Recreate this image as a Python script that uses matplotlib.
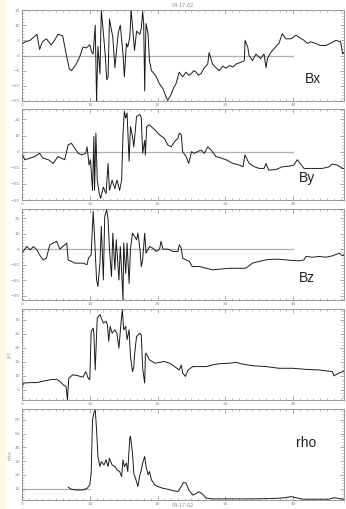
import matplotlib
matplotlib.use("Agg")
import matplotlib.pyplot as plt
from matplotlib.ticker import MultipleLocator

# hours since start
bx_t = [0, 0.5, 1.2, 2.2, 2.6, 3.0, 3.6, 4.3, 4.8, 5.3, 6.0, 6.6, 7.0, 7.3, 8.0, 8.5, 9.0,
        9.5, 10.0, 10.3, 10.5, 10.8, 11.0, 11.2, 11.5, 11.7, 12.0, 12.3, 12.5, 12.7, 12.9,
        13.4, 13.7, 14.2, 14.5, 14.9, 15.1, 15.4, 15.6, 15.9, 16.1, 16.4, 16.6, 16.9, 17.4,
        17.6, 17.8, 17.95, 18.1, 18.2, 18.3, 18.6, 18.8, 19.1, 19.5, 19.8, 20.3, 20.8, 21.3, 21.5,
        22.0, 22.4, 22.7, 23.2, 23.5, 23.7, 24.2, 24.6, 25.0, 25.3, 25.7, 26.0, 26.4, 26.9, 27.4,
        27.6, 28.1, 28.6, 29.1, 29.6, 30.1, 30.6, 31.1, 31.6, 32.3, 32.8, 32.9, 33.3, 33.5, 34.0,
        34.5, 35.2, 35.7, 36.0, 36.2, 36.7, 37.4, 37.9, 38.4, 38.9, 39.7, 40.4, 40.9, 41.6, 42.1,
        42.6, 43.3, 44.0, 44.8, 45.5, 46.3, 47.0, 47.3, 47.5]
bx_v = [4.0, 4.5, 5.0, 7.0, 2.0, 4.5, 5.5, 3.5, 5.0, 7.0, 6.5, -0.5, -4.5, -5.0, -2.8, -0.5, 2.8,
        2.5, 3.5, 1.0, 0.5, 10.0, -15.0, 3.0, -6.0, 15.0, 7.5, -0.5, -8.0, -7.0, 12.0,
        6.0, -4.0, 7.5, 10.0, 0.5, -7.0, 4.0, 2.8, 6.0, 15.0, 7.0, 1.7, 8.0, 7.0,
        9.0, 14.5, 10.5, -11.7, 2.0, 10.5, 7.0, -1.7, -5.0, -6.0, -7.0, -9.4, -11.0, -13.9, -14.8,
        -12.8, -10.5, -9.4, -5.5, -6.5, -7.0, -5.5, -6.5, -6.0, -5.0, -5.5, -6.5, -6.0, -4.0, -2.8,
        1.0, -2.8, -4.0, -5.0, -3.5, -4.2, -3.3, -3.8, -2.8, -2.2, -1.7, 5.0, 2.8, 0.0, -1.7,
        0.5, -1.0, 0.5, -4.0, -1.0, 1.0, 2.8, 4.0, 7.2, 5.5, 5.5, 6.7, 6.0, 5.0, 4.0,
        4.5, 4.0, 3.3, 3.3, 4.0, 5.0, 4.5, 0.5, 1.0]

by_t = [0, 0.4, 1.2, 1.9, 2.6, 3.1, 3.9, 4.6, 5.3, 5.8, 6.3, 6.8, 7.3, 7.8, 8.3, 8.8, 9.4,
        9.6, 9.9, 10.1, 10.4, 10.6, 10.7, 10.9, 11.1, 11.4, 11.6, 12.0, 12.4, 12.7, 12.9,
        13.3, 13.7, 14.0, 14.4, 14.7, 14.9, 15.1, 15.3, 15.5, 15.8, 16.0, 16.3, 16.5, 16.9,
        17.4, 17.6, 17.8, 18.1, 18.2, 18.4, 18.8, 19.6, 20.3, 21.0, 21.5, 22.0, 22.5, 23.0,
        23.2, 23.5, 23.7, 24.2, 24.6, 25.0, 25.4, 25.9, 26.4, 26.9, 27.4, 27.9, 28.6, 29.4,
        30.1, 31.1, 32.1, 32.6, 32.9, 33.5, 34.3, 35.0, 35.7, 36.0, 36.4, 37.5, 38.4, 39.4,
        40.1, 40.6, 41.1, 41.6, 42.8, 44.3, 45.3, 45.8, 46.5, 47.3, 47.5]
by_v = [-1.0, -5.0, -4.0, -3.0, -1.0, -4.0, -5.0, -7.3, -3.0, -4.0, -5.0, 4.2, 5.2, 2.0, -1.0, -2.0, -1.0,
        3.0, -8.3, -5.0, -24.0, 9.4, -24.0, 11.5, -17.7, -26.0, -29.0, -22.0, -26.0, -7.3, -24.0,
        -17.7, -23.0, -17.7, -24.0, -17.7, 11.5, 25.0, 20.8, 24.0, -6.0, 15.6, 9.4, 3.0, 21.9,
        23.0, 21.0, -1.0, 7.0, -2.0, 15.6, 16.7, 13.5, 10.4, 8.3, 4.2, 3.0, 6.2, 8.3,
        11.5, 10.4, 0.0, -3.0, -7.3, 0.0, -1.0, 0.0, 1.0, -1.0, 3.0, 1.0, -3.0, -4.0,
        -5.0, -7.3, -8.3, -9.4, -2.0, -7.3, -9.4, -10.4, -10.4, -7.3, -11.5, -11.0, -9.4, -9.0,
        -8.3, -5.0, -7.7, -10.4, -10.4, -10.4, -9.4, -7.7, -8.3, -10.4, -10.4]

bz_t = [0, 0.7, 1.2, 1.7, 2.2, 2.6, 3.1, 3.6, 4.1, 4.6, 5.1, 5.6, 6.1, 6.6, 6.8, 7.3, 7.8, 8.5,
        9.0, 9.6, 9.8, 10.2, 10.5, 10.7, 11.0, 11.2, 11.5, 11.7, 12.0, 12.2, 12.5, 12.7, 12.9,
        13.2, 13.4, 13.7, 13.9, 14.3, 14.5, 14.7, 14.9, 15.0, 15.3, 15.5, 15.8, 16.0, 16.3,
        16.6, 16.9, 17.1, 17.4, 17.6, 17.8, 18.1, 18.3, 18.8, 19.3, 19.8, 20.3, 20.5, 20.8,
        21.5, 22.3, 23.0, 23.2, 23.5, 23.7, 24.2, 24.7, 25.1, 26.2, 27.2, 28.1, 29.1, 30.6,
        32.1, 33.0, 34.0, 35.0, 36.0, 37.0, 37.9, 38.9, 39.9, 40.9, 41.6, 41.9, 42.8, 43.8,
        44.8, 45.8, 46.8, 47.3, 47.5]
bz_v = [-2.6, 1.7, -0.5, 1.7, -0.5, -3.7, -6.9, -5.8, 2.8, 3.9, 5.0, 0.0, 2.0, 3.9, -6.9, -7.9, -9.0, -9.0,
        -9.0, -10.0, -5.8, -3.7, 24.3, 8.2, -19.8, -24.0, -9.0, 14.6, -19.8, 21.0, 25.4, 18.9, 0.0,
        -17.6, 10.3, -13.3, 6.0, -19.8, 1.7, -14.5, -32.7, 3.9, -15.5, 3.9, -22.0, 0.0, 10.3,
        8.2, 6.0, 10.3, 0.0, -11.2, -6.9, 10.3, -2.6, 1.7, 0.6, -1.5, 0.0, 5.0, 0.0,
        0.0, -1.5, -1.5, 2.8, 0.6, -5.8, -6.9, -7.9, -11.2, -11.2, -12.3, -13.3, -12.9, -12.3,
        -12.3, -12.3, -9.0, -7.9, -6.9, -6.5, -6.5, -6.9, -7.3, -7.5, -6.9, -4.7, -5.2, -4.7,
        -5.2, -4.3, -2.6, -4.3, -3.5]

v_t = [0, 0.2, 1.2, 2.2, 3.1, 4.1, 5.1, 5.6, 6.1, 6.5, 6.7, 6.9, 7.5, 8.3, 9.0, 9.4, 9.8,
       10.0, 10.2, 10.5, 10.6, 10.8, 11.1, 11.5, 11.7, 12.0, 12.4, 12.6, 12.8, 13.0, 13.3,
       13.7, 14.0, 14.3, 14.6, 14.8, 15.0, 15.3, 15.5, 15.8, 16.0, 16.3, 16.5, 16.6, 16.9,
       17.4, 17.6, 17.8, 18.1, 18.2, 18.3, 18.8, 19.6, 20.3, 21.0, 21.8, 22.5, 23.2, 23.5,
       23.7, 24.1, 24.5, 25.2, 26.2, 27.2, 28.1, 29.1, 30.6, 31.6, 32.5, 34.0, 36.0, 37.9,
       39.9, 41.9, 43.8, 45.8, 46.0, 46.8, 47.3, 47.5]
v_v = [5.6, 7.4, 7.6, 7.6, 8.1, 8.6, 8.8, 8.0, 6.8, 6.2, 1.4, 9.2, 10.4, 10.0, 9.5, 11.5, 9.0,
       8.6, 25.8, 27.0, 25.2, 12.1, 30.6, 31.8, 30.6, 28.8, 29.4, 28.2, 22.3, 27.6, 25.2,
       26.4, 25.2, 19.9, 28.8, 33.6, 26.4, 27.6, 22.9, 26.4, 16.9, 11.5, 13.3, 17.5, 24.0,
       25.2, 24.6, 12.7, 7.4, 17.5, 18.1, 15.7, 14.5, 14.8, 15.1, 14.5, 13.3, 12.1, 13.9,
       11.0, 9.8, 12.1, 13.3, 13.3, 13.3, 13.9, 14.3, 14.5, 14.8, 14.2, 13.6, 13.3, 12.7,
       12.7, 12.3, 12.1, 11.5, 10.0, 11.0, 11.5, 11.8]

rho_t = [6.8, 7.3, 8.0, 9.0, 9.6, 10.0, 10.2, 10.4, 10.6, 10.8, 11.0, 11.2, 11.5, 11.7, 12.1,
         12.4, 12.7, 12.9, 13.3, 13.7, 14.0, 14.4, 14.7, 14.9, 15.1, 15.4, 15.6, 15.9, 16.0,
         16.3, 16.5, 16.9, 17.1, 17.4, 17.6, 17.8, 18.1, 18.3, 18.6, 18.8, 19.1, 19.6, 20.0,
         20.8, 21.5, 22.3, 23.0, 23.5, 23.8, 24.2, 24.6, 25.2, 25.7, 26.1, 26.6, 27.2, 28.1,
         30.1, 32.1, 34.0, 36.0, 37.9, 38.9, 39.7, 40.4, 41.4, 43.3, 45.3, 46.0, 46.8, 47.3, 47.5]
rho_v = [11.0, 9.5, 9.0, 9.0, 10.2, 12.7, 21.0, 60.0, 64.9, 67.3, 52.7, 33.3, 26.0, 29.6, 27.1,
         30.9, 26.0, 32.0, 27.1, 26.0, 23.6, 22.4, 18.7, 30.9, 26.0, 28.5, 22.4, 46.7, 48.0,
         35.7, 21.0, 15.0, 11.5, 20.0, 23.6, 28.5, 33.3, 26.0, 20.0, 22.4, 16.3, 12.7, 11.5,
         10.2, 9.5, 8.5, 7.8, 11.5, 14.4, 14.0, 9.0, 5.3, 6.5, 7.8, 6.1, 3.0, 2.5,
         2.5, 2.5, 2.5, 2.7, 3.0, 3.4, 4.2, 3.4, 2.3, 2.3, 2.3, 3.4, 2.7, 2.3, 2.3]

panel_labels = ["Bx", "By", "Bz", "", "rho"]
y_units = ["nT", "nT", "nT", "|V|", "n/cc"]
y_limits = [(-15, 15), (-30, 26.5), (-32.7, 25.8), (1.4, 33.8), (1.7, 67.8)]
y_major = [5, 10, 10, 5, 10]
ref_levels = [0, 0, 0, None, 9.5]
ref_ends = [40, 40, 40, None, 10]
label_pos = [(0.88, 0.2), (0.86, 0.2), (0.86, 0.2), None, (0.85, 0.58)]
series = [(bx_t, bx_v), (by_t, by_v), (bz_t, bz_v), (v_t, v_v), (rho_t, rho_v)]

W, H = 346, 509
fig = plt.figure(figsize=(W / 100, H / 100), dpi=100)
fig.patch.set_facecolor("white")
# cream strip on the far left
fig.patches.append(plt.Rectangle((0, 0), 7 / W, 1, transform=fig.transFigure,
                                 facecolor="#fdfbe6", edgecolor="none", zorder=0))

tops = [10, 109, 209, 309, 409]
left, right = 22, 344
ph = 91
gray = "#888888"

for i, (t, v) in enumerate(series):
    ax = fig.add_axes([left / W, 1 - (tops[i] + ph) / H, (right - left) / W, ph / H])
    if ref_levels[i] is not None:
        ax.plot([0, ref_ends[i]], [ref_levels[i], ref_levels[i]], color="#b0b0b0", lw=0.9, zorder=1)
    ax.plot(t, v, color="#1a1a1a", lw=0.7, zorder=2)
    ax.set_xlim(0, 47.5)
    ax.set_ylim(*y_limits[i])
    ax.xaxis.set_major_locator(MultipleLocator(10))
    ax.xaxis.set_minor_locator(MultipleLocator(1))
    ax.yaxis.set_major_locator(MultipleLocator(y_major[i]))
    ax.yaxis.set_minor_locator(MultipleLocator(y_major[i] / 5))
    ax.tick_params(which="both", direction="in", top=True, right=True, colors=gray,
                   labelsize=3.2, pad=1.5)
    ax.tick_params(which="major", length=3, width=0.5)
    ax.tick_params(which="minor", length=1.5, width=0.4)
    for s in ax.spines.values():
        s.set_color(gray)
        s.set_linewidth(0.6)
    ax.set_ylabel(y_units[i], fontsize=3.5, color=gray, labelpad=2)
    if label_pos[i] is not None:
        ax.text(label_pos[i][0], label_pos[i][1], panel_labels[i], transform=ax.transAxes,
                fontsize=10, color="#222222", family="Liberation Sans")
    if i == 0:
        ax.set_title("04-17-02", fontsize=3.5, color=gray, pad=2)

fig.text(183 / W, 1 - 505.5 / H, "04-17-02", fontsize=3.5, color=gray, ha="center", va="center")

fig.savefig("out.png", dpi=100)
